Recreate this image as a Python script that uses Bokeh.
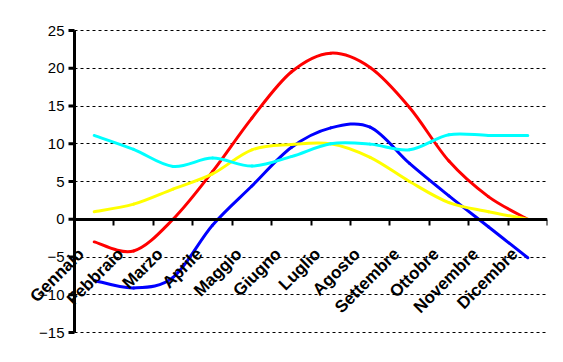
import numpy as np
from bokeh.plotting import figure
from bokeh.models import Range1d, FixedTicker, LinearAxis, Grid
from bokeh.embed import file_html
from bokeh.resources import INLINE

months = ["Gennaio", "Febbraio", "Marzo", "Aprile", "Maggio", "Giugno",
          "Luglio", "Agosto", "Settembre", "Ottobre", "Novembre", "Dicembre"]
red = [-3.0, -4.2, 0.0, 6.3, 13.4, 19.5, 22.0, 20.1, 14.8, 7.7, 3.0, 0.0]
blue = [-8.1, -9.1, -7.7, -0.8, 4.4, 9.5, 12.1, 12.2, 7.4, 3.1, -1.0, -5.1]
yellow = [1.0, 2.0, 4.0, 6.0, 9.2, 9.9, 10.0, 8.2, 5.0, 2.2, 1.0, 0.0]
cyan = [11.1, 9.25, 7.0, 8.1, 7.05, 8.3, 10.0, 9.95, 9.2, 11.2, 11.1, 11.1]
y_ticks = [-15, -10, -5, 0, 5, 10, 15, 20, 25]

n = len(months)
y_lo, y_hi = y_ticks[0], y_ticks[-1]
PX_PER_CAT = 473 / n                      # width of one category in pixels
PX_PER_UNIT = 302 / (y_hi - y_lo)         # pixels per value unit
LEFT_PAD = 64                             # frame room left of the value axis
V_PAD = 10                                # frame room above/below the value axis
x_start = -LEFT_PAD / PX_PER_CAT
pad_v = V_PAD / PX_PER_UNIT

p = figure(frame_width=473 + LEFT_PAD, frame_height=302 + 2 * V_PAD,
           x_axis_type=None, y_axis_type=None,
           x_range=Range1d(x_start, n), y_range=Range1d(y_lo - pad_v, y_hi + pad_v),
           output_backend="svg", toolbar_location=None,
           min_border_left=10, min_border_top=30 - V_PAD,
           min_border_right=8, min_border_bottom=10)
p.outline_line_color = None
p.background_fill_color = "white"
p.border_fill_color = "white"

# value axis at x = 0 (labels from the axis; rule and ticks drawn as glyphs below)
yax = LinearAxis(ticker=FixedTicker(ticks=y_ticks), fixed_location=0, bounds=(y_lo, y_hi),
                 axis_line_color=None, major_tick_line_color=None,
                 major_tick_out=6, major_tick_in=0, minor_tick_line_color=None,
                 major_label_text_font="Liberation Sans",
                 major_label_text_font_size="15px",
                 major_label_text_color="black", major_label_standoff=4)
p.add_layout(yax, "left")

if "cross_bounds" in Grid.properties():
    grid = Grid(dimension=1, ticker=yax.ticker, grid_line_color="black",
                grid_line_dash="3 3", grid_line_width=1, cross_bounds=(0, n))
    p.add_layout(grid, "center")
else:
    p.segment(x0=np.zeros(len(y_ticks)), x1=np.full(len(y_ticks), n),
              y0=y_ticks, y1=y_ticks, line_color="black", line_dash="3 3",
              line_width=1, level="underlay")

# rule and tick marks of the value axis
tick_len = 6 / PX_PER_CAT
p.line(x=[0, 0], y=[y_lo, y_hi], line_color="black", line_width=3)
p.segment(x0=np.full(len(y_ticks), -tick_len), x1=np.zeros(len(y_ticks)),
          y0=y_ticks, y1=y_ticks, line_color="black", line_width=3)

centers = np.arange(n) + 0.5
bounds = np.arange(1, n + 1)
label_pos = centers - 13 / PX_PER_CAT

# category axis crossing at zero: ticks at category boundaries, labels at centres
xax = LinearAxis(ticker=FixedTicker(ticks=list(label_pos), minor_ticks=list(bounds.astype(float))),
                 major_label_overrides={float(c): m for c, m in zip(label_pos, months)},
                 fixed_location=0, bounds=(0, n),
                 axis_line_width=3, axis_line_color="black",
                 major_tick_line_color=None, major_tick_out=0, major_tick_in=0,
                 minor_tick_line_color="black", minor_tick_line_width=2,
                 minor_tick_out=6, minor_tick_in=0,
                 major_label_orientation=np.pi / 4,
                 major_label_standoff=26,
                 major_label_text_font="Liberation Sans",
                 major_label_text_font_style="bold",
                 major_label_text_font_size="17px",
                 major_label_text_color="black")
p.add_layout(xax, "below")


def smooth(ys, color):
    xs = centers
    ys = np.asarray(ys, dtype=float)
    xp = np.r_[xs[0], xs, xs[-1]]
    yp = np.r_[ys[0], ys, ys[-1]]
    tx = (xp[2:] - xp[:-2]) / 2.0
    ty = (yp[2:] - yp[:-2]) / 2.0
    p.bezier(x0=xs[:-1], y0=ys[:-1], x1=xs[1:], y1=ys[1:],
             cx0=xs[:-1] + tx[:-1] / 3.0, cy0=ys[:-1] + ty[:-1] / 3.0,
             cx1=xs[1:] - tx[1:] / 3.0, cy1=ys[1:] - ty[1:] / 3.0,
             line_color=color, line_width=3, line_cap="round")


smooth(red, "#FF0000")
smooth(blue, "#0000FF")
smooth(yellow, "#FFFF00")
smooth(cyan, "#00FFFF")

open("out.html", "w").write(file_html(p, INLINE))
